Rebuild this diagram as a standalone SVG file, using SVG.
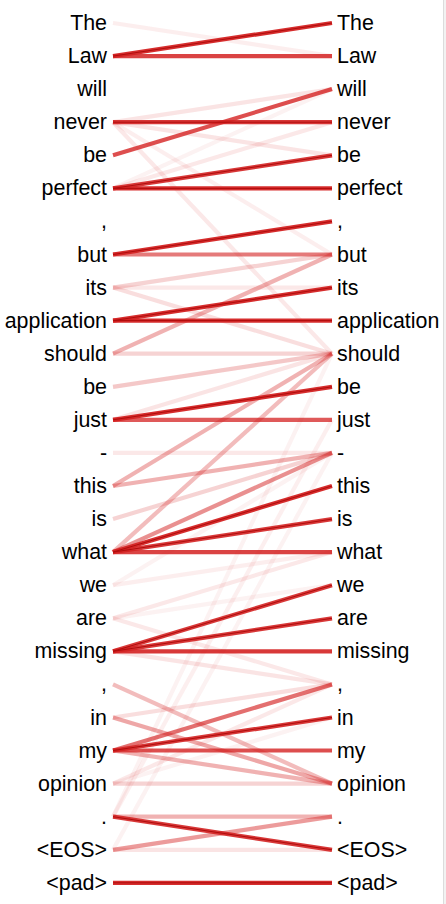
<svg xmlns="http://www.w3.org/2000/svg" width="446" height="904" viewBox="0 0 446 904">
<style>
text{font-family:"Liberation Sans",Arial,sans-serif;font-size:21.4px;fill:#000}
.l text{text-anchor:end}
.r text{text-anchor:start}
#links line{stroke:#d42222;stroke-width:4.2;stroke-linecap:butt}
#links line.core{stroke:#b00c0c;stroke-width:1}
</style>
<rect x="0" y="0" width="446" height="904" fill="#fff"/>
<rect x="443" y="0" width="3" height="904" fill="#f2f2f2"/>
<line x1="443.5" y1="0" x2="443.5" y2="904" stroke="#dcdcdc" stroke-width="1"/>
<g id="links">
<line x1="113" y1="23" x2="332" y2="56.1" stroke-opacity="0.08"/>
<line x1="113" y1="56.1" x2="332" y2="23" stroke-opacity="0.95"/>
<line x1="113" y1="56.1" x2="332" y2="56.1" stroke-opacity="0.85"/>
<line x1="113" y1="122.2" x2="332" y2="89.1" stroke-opacity="0.12"/>
<line x1="113" y1="122.2" x2="332" y2="122.2" stroke-opacity="0.9"/>
<line x1="113" y1="122.2" x2="332" y2="155.3" stroke-opacity="0.12"/>
<line x1="113" y1="122.2" x2="332" y2="254.5" stroke-opacity="0.08"/>
<line x1="113" y1="122.2" x2="332" y2="353.7" stroke-opacity="0.1"/>
<line x1="113" y1="155.3" x2="332" y2="89.1" stroke-opacity="0.8"/>
<line x1="113" y1="188.4" x2="332" y2="122.2" stroke-opacity="0.1"/>
<line x1="113" y1="188.4" x2="332" y2="89.1" stroke-opacity="0.06"/>
<line x1="113" y1="188.4" x2="332" y2="155.3" stroke-opacity="0.9"/>
<line x1="113" y1="188.4" x2="332" y2="188.4" stroke-opacity="0.95"/>
<line x1="113" y1="254.5" x2="332" y2="221.4" stroke-opacity="0.95"/>
<line x1="113" y1="254.5" x2="332" y2="254.5" stroke-opacity="0.6"/>
<line x1="113" y1="287.6" x2="332" y2="254.5" stroke-opacity="0.2"/>
<line x1="113" y1="287.6" x2="332" y2="287.6" stroke-opacity="0.1"/>
<line x1="113" y1="287.6" x2="332" y2="353.7" stroke-opacity="0.15"/>
<line x1="113" y1="320.6" x2="332" y2="287.6" stroke-opacity="0.95"/>
<line x1="113" y1="320.6" x2="332" y2="320.6" stroke-opacity="0.95"/>
<line x1="113" y1="353.7" x2="332" y2="254.5" stroke-opacity="0.35"/>
<line x1="113" y1="353.7" x2="332" y2="353.7" stroke-opacity="0.2"/>
<line x1="113" y1="386.8" x2="332" y2="353.7" stroke-opacity="0.25"/>
<line x1="113" y1="419.8" x2="332" y2="353.7" stroke-opacity="0.12"/>
<line x1="113" y1="419.8" x2="332" y2="386.8" stroke-opacity="0.95"/>
<line x1="113" y1="419.8" x2="332" y2="419.8" stroke-opacity="0.75"/>
<line x1="113" y1="452.9" x2="332" y2="452.9" stroke-opacity="0.1"/>
<line x1="113" y1="486" x2="332" y2="353.7" stroke-opacity="0.35"/>
<line x1="113" y1="486" x2="332" y2="452.9" stroke-opacity="0.35"/>
<line x1="113" y1="519.1" x2="332" y2="452.9" stroke-opacity="0.2"/>
<line x1="113" y1="552.1" x2="332" y2="353.7" stroke-opacity="0.3"/>
<line x1="113" y1="552.1" x2="332" y2="452.9" stroke-opacity="0.5"/>
<line x1="113" y1="552.1" x2="332" y2="486" stroke-opacity="0.95"/>
<line x1="113" y1="552.1" x2="332" y2="519.1" stroke-opacity="0.9"/>
<line x1="113" y1="552.1" x2="332" y2="552.1" stroke-opacity="0.85"/>
<line x1="113" y1="585.2" x2="332" y2="552.1" stroke-opacity="0.08"/>
<line x1="113" y1="585.2" x2="332" y2="452.9" stroke-opacity="0.06"/>
<line x1="113" y1="618.3" x2="332" y2="552.1" stroke-opacity="0.1"/>
<line x1="113" y1="618.3" x2="332" y2="585.2" stroke-opacity="0.06"/>
<line x1="113" y1="618.3" x2="332" y2="684.4" stroke-opacity="0.1"/>
<line x1="113" y1="651.3" x2="332" y2="585.2" stroke-opacity="0.9"/>
<line x1="113" y1="651.3" x2="332" y2="618.3" stroke-opacity="0.9"/>
<line x1="113" y1="651.3" x2="332" y2="651.3" stroke-opacity="0.9"/>
<line x1="113" y1="651.3" x2="332" y2="684.4" stroke-opacity="0.12"/>
<line x1="113" y1="684.4" x2="332" y2="783.6" stroke-opacity="0.3"/>
<line x1="113" y1="717.5" x2="332" y2="684.4" stroke-opacity="0.15"/>
<line x1="113" y1="717.5" x2="332" y2="783.6" stroke-opacity="0.4"/>
<line x1="113" y1="750.5" x2="332" y2="684.4" stroke-opacity="0.65"/>
<line x1="113" y1="750.5" x2="332" y2="717.5" stroke-opacity="0.9"/>
<line x1="113" y1="750.5" x2="332" y2="750.5" stroke-opacity="0.8"/>
<line x1="113" y1="750.5" x2="332" y2="783.6" stroke-opacity="0.35"/>
<line x1="113" y1="783.6" x2="332" y2="783.6" stroke-opacity="0.2"/>
<line x1="113" y1="783.6" x2="332" y2="684.4" stroke-opacity="0.1"/>
<line x1="113" y1="783.6" x2="332" y2="717.5" stroke-opacity="0.06"/>
<line x1="113" y1="816.7" x2="332" y2="816.7" stroke-opacity="0.35"/>
<line x1="113" y1="816.7" x2="332" y2="849.8" stroke-opacity="0.9"/>
<line x1="113" y1="816.7" x2="332" y2="419.8" stroke-opacity="0.07"/>
<line x1="113" y1="816.7" x2="332" y2="353.7" stroke-opacity="0.06"/>
<line x1="113" y1="849.8" x2="332" y2="816.7" stroke-opacity="0.45"/>
<line x1="113" y1="849.8" x2="332" y2="849.8" stroke-opacity="0.12"/>
<line x1="113" y1="849.8" x2="332" y2="452.9" stroke-opacity="0.06"/>
<line x1="113" y1="882.8" x2="332" y2="882.8" stroke-opacity="0.95"/>
<line class="core" x1="113" y1="56.1" x2="332" y2="23"/>
<line class="core" x1="113" y1="122.2" x2="332" y2="122.2"/>
<line class="core" x1="113" y1="188.4" x2="332" y2="155.3"/>
<line class="core" x1="113" y1="188.4" x2="332" y2="188.4"/>
<line class="core" x1="113" y1="254.5" x2="332" y2="221.4"/>
<line class="core" x1="113" y1="320.6" x2="332" y2="287.6"/>
<line class="core" x1="113" y1="320.6" x2="332" y2="320.6"/>
<line class="core" x1="113" y1="419.8" x2="332" y2="386.8"/>
<line class="core" x1="113" y1="552.1" x2="332" y2="486"/>
<line class="core" x1="113" y1="552.1" x2="332" y2="519.1"/>
<line class="core" x1="113" y1="651.3" x2="332" y2="585.2"/>
<line class="core" x1="113" y1="651.3" x2="332" y2="618.3"/>
<line class="core" x1="113" y1="750.5" x2="332" y2="717.5"/>
<line class="core" x1="113" y1="816.7" x2="332" y2="849.8"/>
<line class="core" x1="113" y1="882.8" x2="332" y2="882.8"/>
</g>
<g class="l">
<g id="L0"><text x="107" y="30">The</text></g>
<g id="L1"><text x="107" y="63.1">Law</text></g>
<g id="L2"><text x="107" y="96.1">will</text></g>
<g id="L3"><text x="107" y="129.2">never</text></g>
<g id="L4"><text x="107" y="162.3">be</text></g>
<g id="L5"><text x="107" y="195.4">perfect</text></g>
<g id="L6"><text x="107" y="228.4">,</text></g>
<g id="L7"><text x="107" y="261.5">but</text></g>
<g id="L8"><text x="107" y="294.6">its</text></g>
<g id="L9"><text x="107" y="327.6">application</text></g>
<g id="L10"><text x="107" y="360.7">should</text></g>
<g id="L11"><text x="107" y="393.8">be</text></g>
<g id="L12"><text x="107" y="426.8">just</text></g>
<g id="L13"><text x="107" y="459.9">-</text></g>
<g id="L14"><text x="107" y="493">this</text></g>
<g id="L15"><text x="107" y="526.1">is</text></g>
<g id="L16"><text x="107" y="559.1">what</text></g>
<g id="L17"><text x="107" y="592.2">we</text></g>
<g id="L18"><text x="107" y="625.3">are</text></g>
<g id="L19"><text x="107" y="658.3">missing</text></g>
<g id="L20"><text x="107" y="691.4">,</text></g>
<g id="L21"><text x="107" y="724.5">in</text></g>
<g id="L22"><text x="107" y="757.5">my</text></g>
<g id="L23"><text x="107" y="790.6">opinion</text></g>
<g id="L24"><text x="107" y="823.7">.</text></g>
<g id="L25"><text x="107" y="856.8">&lt;EOS&gt;</text></g>
<g id="L26"><text x="107" y="889.8">&lt;pad&gt;</text></g>
</g>
<g class="r">
<g id="R0"><text x="337" y="30">The</text></g>
<g id="R1"><text x="337" y="63.1">Law</text></g>
<g id="R2"><text x="337" y="96.1">will</text></g>
<g id="R3"><text x="337" y="129.2">never</text></g>
<g id="R4"><text x="337" y="162.3">be</text></g>
<g id="R5"><text x="337" y="195.4">perfect</text></g>
<g id="R6"><text x="337" y="228.4">,</text></g>
<g id="R7"><text x="337" y="261.5">but</text></g>
<g id="R8"><text x="337" y="294.6">its</text></g>
<g id="R9"><text x="337" y="327.6">application</text></g>
<g id="R10"><text x="337" y="360.7">should</text></g>
<g id="R11"><text x="337" y="393.8">be</text></g>
<g id="R12"><text x="337" y="426.8">just</text></g>
<g id="R13"><text x="337" y="459.9">-</text></g>
<g id="R14"><text x="337" y="493">this</text></g>
<g id="R15"><text x="337" y="526.1">is</text></g>
<g id="R16"><text x="337" y="559.1">what</text></g>
<g id="R17"><text x="337" y="592.2">we</text></g>
<g id="R18"><text x="337" y="625.3">are</text></g>
<g id="R19"><text x="337" y="658.3">missing</text></g>
<g id="R20"><text x="337" y="691.4">,</text></g>
<g id="R21"><text x="337" y="724.5">in</text></g>
<g id="R22"><text x="337" y="757.5">my</text></g>
<g id="R23"><text x="337" y="790.6">opinion</text></g>
<g id="R24"><text x="337" y="823.7">.</text></g>
<g id="R25"><text x="337" y="856.8">&lt;EOS&gt;</text></g>
<g id="R26"><text x="337" y="889.8">&lt;pad&gt;</text></g>
</g>
</svg>
